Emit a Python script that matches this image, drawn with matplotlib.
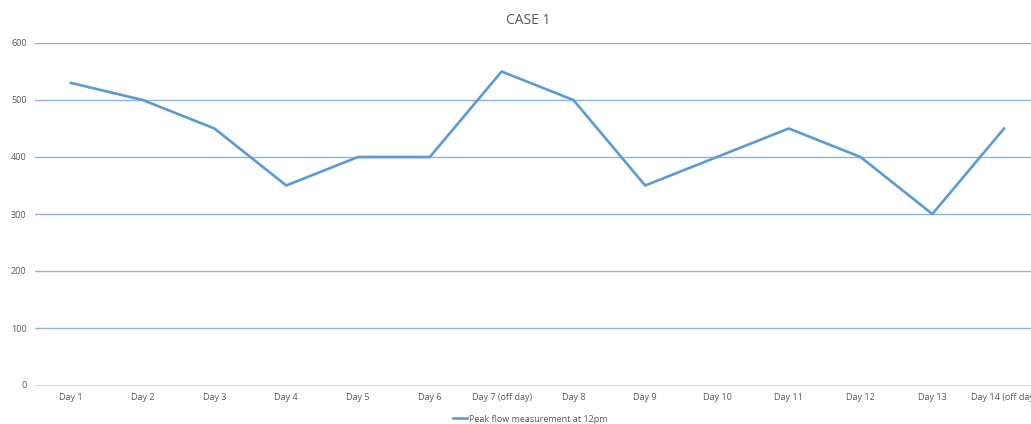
import matplotlib
matplotlib.use('Agg')
from matplotlib import pyplot as plt

# データ (Peak flow, Case 1)
days = ['Day 1', 'Day 2', 'Day 3', 'Day 4', 'Day 5', 'Day 6', 'Day 7 (off day)',
        'Day 8', 'Day 9', 'Day 10', 'Day 11', 'Day 12', 'Day 13', 'Day 14 (off day)']
peak_flow = [530, 500, 450, 350, 400, 400, 550, 500, 350, 400, 450, 400, 300, 450]
y_ticks = [0, 100, 200, 300, 400, 500, 600]

plt.rcParams['font.family'] = ['Open Sans', 'DejaVu Sans']

fig = plt.figure(figsize=(10.31, 4.24), dpi=100)
# 右側は元画像と同様に少し切れる
ax = fig.add_axes([35 / 1031, 1 - 385 / 424, 1005 / 1031, (385 - 43) / 424])

x = list(range(len(days)))
line, = ax.plot(x, peak_flow, color='#5b9bd5', linewidth=1.9,
                label='Peak flow measurement at 12pm', solid_joinstyle='round')

ax.set_xlim(-0.5, len(days) - 0.5)
ax.set_ylim(0, 600)
ax.set_yticks(y_ticks)
ax.set_xticks(x)
ax.set_xticklabels(days)
ax.tick_params(axis='both', length=0, labelsize=6.5, colors='#595959', pad=6)

ax.yaxis.grid(True, color='#8db4e0', linewidth=1.0)
ax.set_axisbelow(True)
for s in ['top', 'right', 'left']:
    ax.spines[s].set_visible(False)
ax.spines['bottom'].set_color('#d9d9d9')
ax.spines['bottom'].set_zorder(2.5)
ax.get_ygridlines()[0].set_visible(False)

fig.text(528 / 1031, 1 - 20 / 424, 'CASE 1', ha='center', va='center', fontsize=10, color='#595959')

fig.legend(handles=[line], loc='center', bbox_to_anchor=(530 / 1031, 1 - 419 / 424),
           frameon=False, fontsize=6.5, labelcolor='#595959',
           handlelength=1.6, handletextpad=0.2)

fig.savefig('out.png', dpi=100)
